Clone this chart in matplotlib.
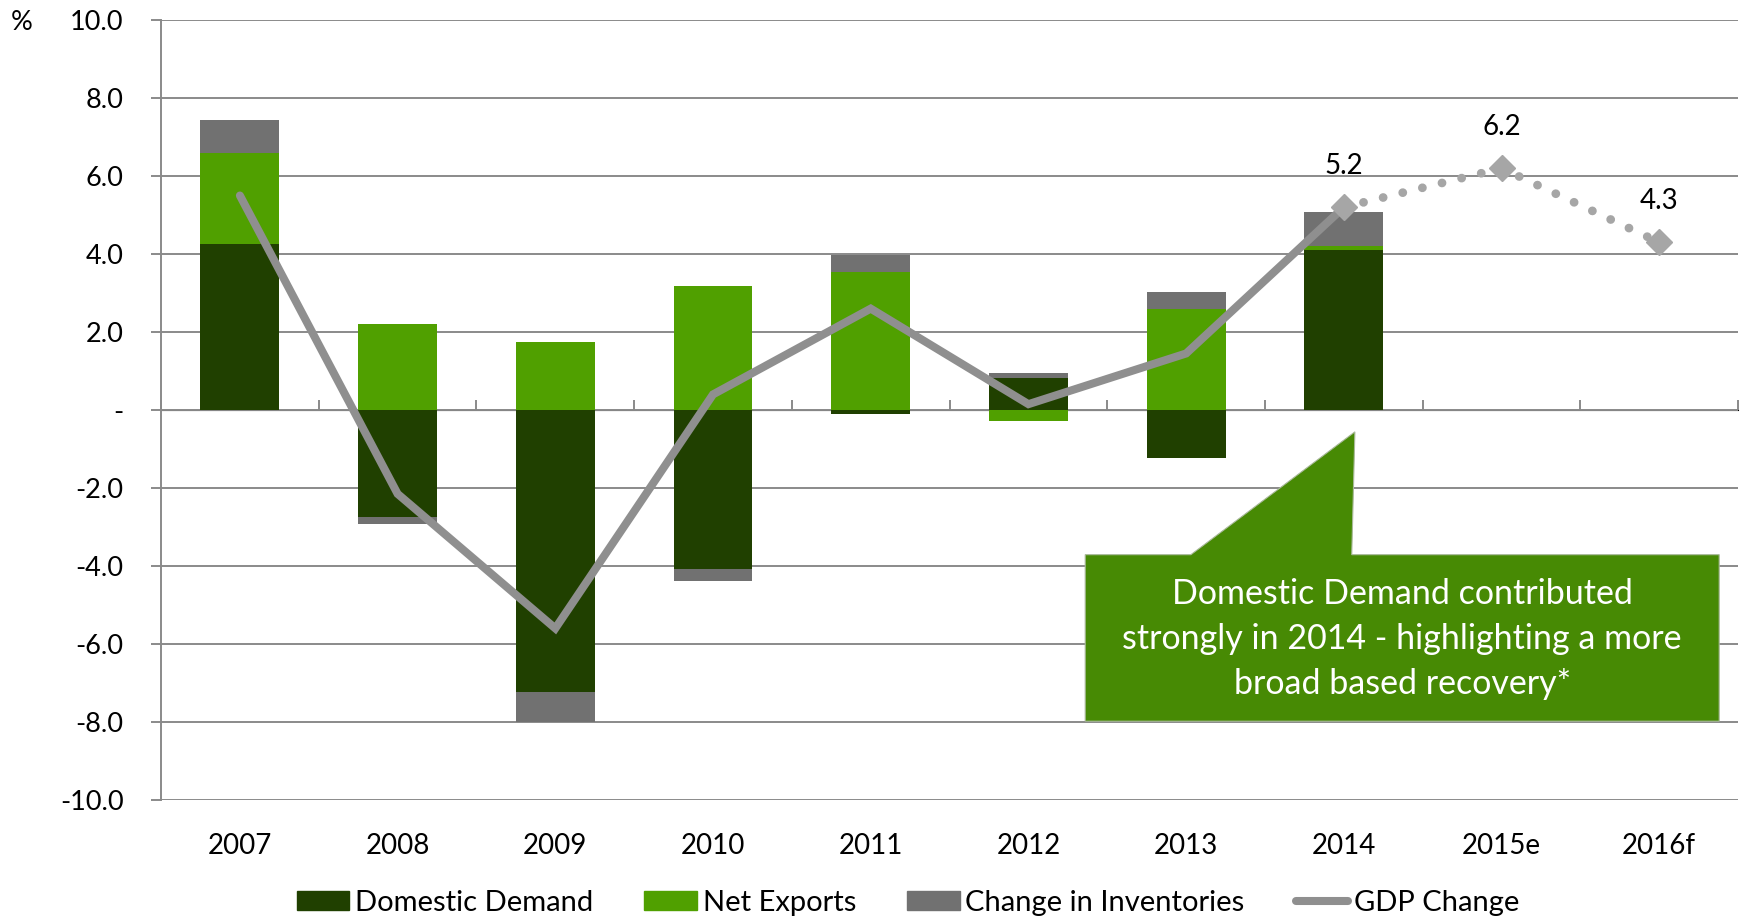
import numpy as np
import matplotlib
matplotlib.use("Agg")
import matplotlib.pyplot as plt
from matplotlib.patches import Polygon, Patch
from matplotlib.lines import Line2D
from matplotlib.ticker import FuncFormatter

plt.rcParams['font.family'] = ['Lato', 'DejaVu Sans']

years = ["2007", "2008", "2009", "2010", "2011", "2012", "2013", "2014", "2015e", "2016f"]

# contributions to GDP growth, percentage points (no bars for forecast years)
domestic = [4.25, -2.75, -7.24, -4.08, -0.10, 0.81, -1.24, 4.11, 0, 0]
net_exports = [2.34, 2.20, 1.75, 3.17, 3.55, -0.29, 2.59, 0.09, 0, 0]
inventories = [0.85, -0.17, -0.77, -0.30, 0.43, 0.15, 0.43, 0.87, 0, 0]

gdp_actual = [5.5, -2.15, -5.6, 0.4, 2.6, 0.15, 1.45, 5.2]
gdp_forecast = [5.2, 6.2, 4.3]
forecast_years = ["2014", "2015e", "2016f"]

c_dom = "#204000"
c_net = "#50A000"
c_inv = "#717171"
c_gdp = "#8F8F8F"
c_fc = "#A6A6A6"
c_grid = "#8A8A8A"
c_box = "#478A04"

fig = plt.figure(figsize=(17.43, 9.19), dpi=100)
ax = fig.add_axes([0.0924, 0.1295, 0.9048, 0.8487])

x = np.arange(len(years))
width = 0.5

# stack positive parts upward and negative parts downward, like a spreadsheet chart
pos_base = np.zeros(len(years))
neg_base = np.zeros(len(years))
for vals, col in [(domestic, c_dom), (net_exports, c_net), (inventories, c_inv)]:
    vals = np.array(vals, dtype=float)
    base = np.where(vals >= 0, pos_base, neg_base)
    ax.bar(x, vals, width, bottom=base, color=col, zorder=2)
    pos_base += np.where(vals > 0, vals, 0)
    neg_base += np.where(vals < 0, vals, 0)

# GDP line: actual and forecast
ax.plot(x[:len(gdp_actual)], gdp_actual, color=c_gdp, lw=5.8,
        solid_capstyle='round', solid_joinstyle='miter', zorder=4)
xf = [years.index(y) for y in forecast_years]
ax.plot(xf, gdp_forecast, color=c_fc, lw=6.3, linestyle=(0, (0.01, 2.3)),
        dash_capstyle='round', zorder=4)
ax.plot(xf, gdp_forecast, linestyle='none', marker='D', ms=13,
        color=c_fc, zorder=5)
for xi, v in zip(xf, gdp_forecast):
    ax.annotate(f"{v:.1f}", (xi, v), xytext=(0, 30), textcoords='offset points',
                ha='center', va='center', fontsize=20, color='black')

# axes styling
ax.set_xlim(-0.5, 9.5)
ax.set_ylim(-10, 10)
ax.set_yticks(np.arange(-10, 10.1, 2))
ax.yaxis.set_major_formatter(FuncFormatter(lambda v, p: "-" if abs(v) < 1e-9 else f"{v:.1f}"))
ax.tick_params(axis='y', length=7, width=1.4, color=c_grid, pad=20, labelsize=19.5)
ax.grid(axis='y', color=c_grid, lw=1.4, zorder=0)
ax.set_axisbelow(True)
for s in ['top', 'right', 'bottom']:
    ax.spines[s].set_visible(False)
ax.spines['left'].set_color(c_grid)
ax.spines['left'].set_linewidth(1.4)

ax.set_xticks(x)
ax.set_xticklabels(years)
ax.tick_params(axis='x', length=0, pad=24, labelsize=20)

# zero line with category-boundary ticks
zero = ax.secondary_xaxis(0.5)
zero.set_xticks(np.arange(-0.5, 10, 1.0))
zero.tick_params(axis='x', length=7, width=1.4, color=c_grid, labelbottom=False, labeltop=False)
zero.spines['bottom'].set_color(c_grid)
zero.spines['bottom'].set_linewidth(1.4)

fig.text(22 / 1743, 1 - 22 / 919, "%", fontsize=19.5, ha='center', va='center')

# callout
callout = Polygon([(5.36, -3.71), (6.03, -3.71), (7.07, -0.56), (7.05, -3.71),
                   (9.38, -3.71), (9.38, -7.98), (5.36, -7.98)],
                  closed=True, facecolor=c_box, edgecolor="#A9B99A", lw=0.8, zorder=6)
ax.add_patch(callout)
ax.text(7.37, -5.87, "Domestic Demand contributed\nstrongly in 2014 - highlighting a more\nbroad based recovery*",
        ha='center', va='center', color='white', fontsize=24.5, linespacing=1.5, zorder=7)

handles = [Patch(color=c_dom), Patch(color=c_net), Patch(color=c_inv),
           Line2D([], [], color=c_gdp, lw=5.8, solid_capstyle='round')]
labels = ["Domestic Demand", "Net Exports", "Change in Inventories", "GDP Change"]
fig.legend(handles, labels, loc='center', bbox_to_anchor=(0.521, 0.0174), ncol=4,
           frameon=False, fontsize=21, handlelength=1.8, handleheight=0.6,
           handletextpad=0.2, columnspacing=1.75)

fig.savefig("out.png", dpi=100)
